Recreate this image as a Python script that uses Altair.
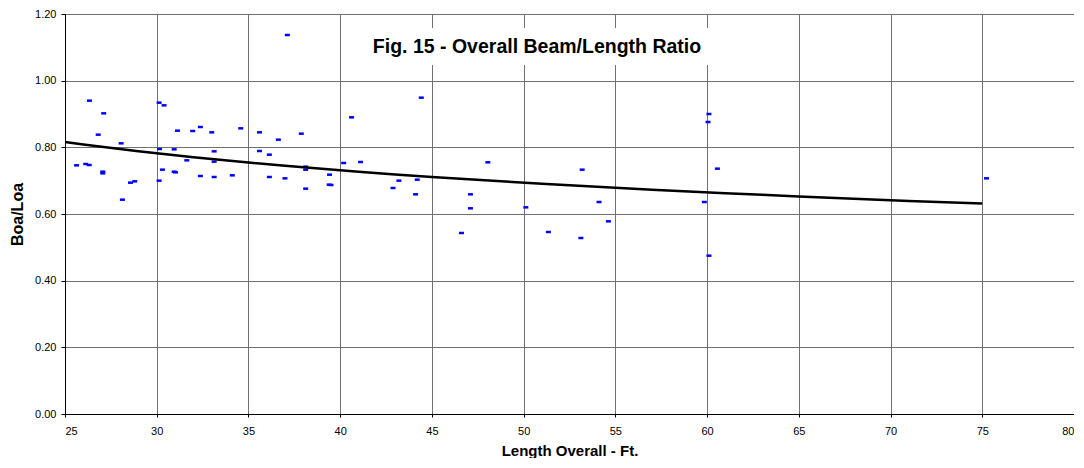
import altair as alt
import pandas as pd

length_ft = [25.63, 26.13, 26.32, 26.33, 26.81, 27.06, 27.06, 27.11, 28.06, 28.13,
             28.57, 28.80, 30.13, 30.40, 30.15, 30.31, 30.13, 30.95, 30.95, 31.02,
             31.13, 31.64, 31.96, 32.38, 32.38, 33.00, 33.13, 33.13, 33.13, 34.12,
             34.58, 35.60, 35.60, 36.14, 36.14, 36.63, 36.99, 37.12, 37.88, 38.12,
             38.12, 38.12, 39.42, 39.40, 39.50, 40.19, 40.62, 41.11, 42.88, 43.20,
             44.11, 44.20, 44.42, 46.61, 47.10, 47.10, 48.05, 50.12, 51.35, 53.12,
             53.19, 54.11, 54.62, 59.85, 60.05, 60.10, 60.10, 60.56, 75.23]
boa_loa = [0.746, 0.750, 0.747, 0.940, 0.838, 0.727, 0.722, 0.902, 0.812, 0.643,
           0.694, 0.698, 0.934, 0.926, 0.795, 0.733, 0.700, 0.794, 0.727, 0.725,
           0.850, 0.761, 0.849, 0.861, 0.714, 0.845, 0.788, 0.757, 0.711, 0.716,
           0.857, 0.845, 0.789, 0.778, 0.711, 0.823, 0.707, 1.137, 0.841, 0.742,
           0.733, 0.676, 0.718, 0.688, 0.687, 0.753, 0.890, 0.756, 0.678, 0.700,
           0.659, 0.703, 0.949, 0.543, 0.659, 0.617, 0.755, 0.620, 0.546, 0.528,
           0.733, 0.636, 0.578, 0.636, 0.876, 0.900, 0.475, 0.736, 0.707]

x_ticks = [25, 30, 35, 40, 45, 50, 55, 60, 65, 70, 75, 80]
y_ticks = [0.0, 0.2, 0.4, 0.6, 0.8, 1.0, 1.2]
title_text = "Fig. 15 - Overall Beam/Length Ratio"

df = pd.DataFrame({"x": length_ft, "y": boa_loa})

FONT = "Liberation Sans"

x_enc = alt.X("x:Q", scale=alt.Scale(domain=[25, 80], nice=False, zero=False),
              axis=alt.Axis(values=x_ticks, title="Length Overall - Ft.", format="d",
                            labelFontSize=11, titleFontSize=15, titleFontWeight="bold",
                            titlePadding=7, tickSize=3, labelPadding=8,
                            grid=True))
y_enc = alt.Y("y:Q", scale=alt.Scale(domain=[0, 1.2], nice=False),
              axis=alt.Axis(values=y_ticks, title="Boa/Loa", format=".2f",
                            labelFontSize=11, titleFontSize=16, titleFontWeight="bold",
                            titlePadding=9, tickSize=4, labelPadding=5,
                            grid=True))

base = alt.Chart(df)

points = base.mark_tick(orient="horizontal", size=5, thickness=2.5, color="#0000ff",
                        opacity=1).encode(x=x_enc, y=y_enc)

trend = base.transform_regression("x", "y", method="pow", extent=[25, 75]).mark_line(
    color="black", strokeWidth=2.5).encode(x="x:Q", y="y:Q")

title_box = alt.Chart(pd.DataFrame({"t": [title_text]})).mark_rect(color="white").encode(
    x=alt.value(297), x2=alt.value(647), y=alt.value(14), y2=alt.value(51))

title = alt.Chart(pd.DataFrame({"t": [title_text]})).mark_text(
    font=FONT, fontSize=19.5, fontWeight="bold", color="black", align="center", baseline="middle"
).encode(x=alt.value(472), y=alt.value(33), text="t:N")

chart = alt.layer(points, trend, title_box, title).properties(
    width=1009, height=400,
    autosize=alt.AutoSizeParams(type="none"),
    padding={"left": 57, "top": 6, "right": 0, "bottom": 44},
).configure(font=FONT).configure_axis(
    gridColor="#707070", gridWidth=1, domainColor="black", tickColor="black",
    labelColor="black", titleColor="black", labelFont=FONT, titleFont=FONT
).configure_view(stroke="black", strokeWidth=1)

chart.save("out.html", embed_options={"renderer": "svg", "actions": False})
